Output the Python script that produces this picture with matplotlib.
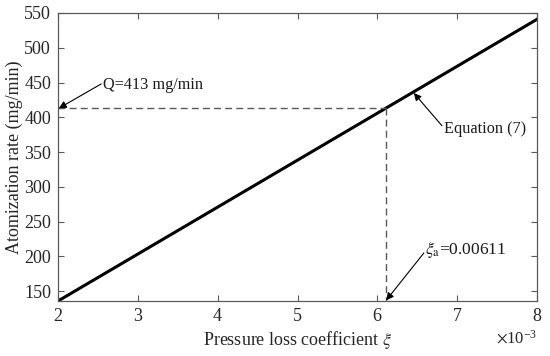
import matplotlib
matplotlib.use("Agg")

import matplotlib.pyplot as plt
from matplotlib.ticker import ScalarFormatter

# data
xi = [0.002, 0.008]
rate = [136, 541]

xi_a = 0.00611
q_a = 413

x_ticks = [0.002, 0.003, 0.004, 0.005, 0.006, 0.007, 0.008]
y_ticks = [150, 200, 250, 300, 350, 400, 450, 500, 550]

plt.rcParams["font.family"] = ["Liberation Serif", "DejaVu Serif"]
plt.rcParams["mathtext.fontset"] = "stix"

fig = plt.figure(figsize=(5.5, 3.56), dpi=100)
ax = fig.add_axes([0.1055, 0.1545, 0.871, 0.809])

ax.plot(xi, rate, color="black", linewidth=2.2)

# dashed guide lines
ax.plot([xi[0], xi_a], [q_a, q_a], color="0.35", linewidth=1, linestyle=(0, (5, 3)))
ax.plot([xi_a, xi_a], [q_a, 136], color="0.35", linewidth=1, linestyle=(0, (5, 3)))

ax.set_xlim(0.002, 0.008)
ax.set_ylim(136, 550)
ax.set_xticks(x_ticks)
ax.set_yticks(y_ticks)

fmt = ScalarFormatter(useMathText=True)
fmt.set_powerlimits((-2, 2))
ax.xaxis.set_major_formatter(fmt)
ax.xaxis.get_offset_text().set_fontsize(12)
ax.xaxis.get_offset_text().set_color("0.15")

ax.tick_params(
    direction="in",
    top=True,
    right=True,
    length=4,
    width=0.8,
    colors="0.35",
    labelcolor="0.15",
    labelsize=13,
    pad=5
)

for spine in ax.spines.values():
    spine.set_color("0.35")
    spine.set_linewidth(0.9)

ax.set_xlabel(r"Pressure loss coefficient $\xi$", fontsize=13, color="0.15", labelpad=3)
ax.set_ylabel("Atomization rate (mg/min)", fontsize=13, color="0.15", labelpad=1)

arrow = dict(
    arrowstyle="-|>",
    color="black",
    lw=0.8,
    mutation_scale=11,
    shrinkA=0,
    shrinkB=0
)

ax.annotate(
    "",
    xy=(0.00201, q_a),
    xytext=(0.00254, 448),
    arrowprops=arrow
)
ax.text(0.002565, 447, "Q=413 mg/min", fontsize=11.7, va="center", color="0.1")

ax.annotate(
    "",
    xy=(0.006456, 435),
    xytext=(0.006808, 388),
    arrowprops=arrow
)
ax.text(0.006835, 383, "Equation (7)", fontsize=11.7, va="center", color="0.1")

ax.annotate(
    "",
    xy=(xi_a, 137),
    xytext=(0.006582, 205),
    arrowprops=arrow
)
ax.text(0.0066, 210, r"$\xi_{\mathrm{a}}$=0.00611", fontsize=12.5, va="center", color="0.1")

fig.savefig("out.png", dpi=100)
